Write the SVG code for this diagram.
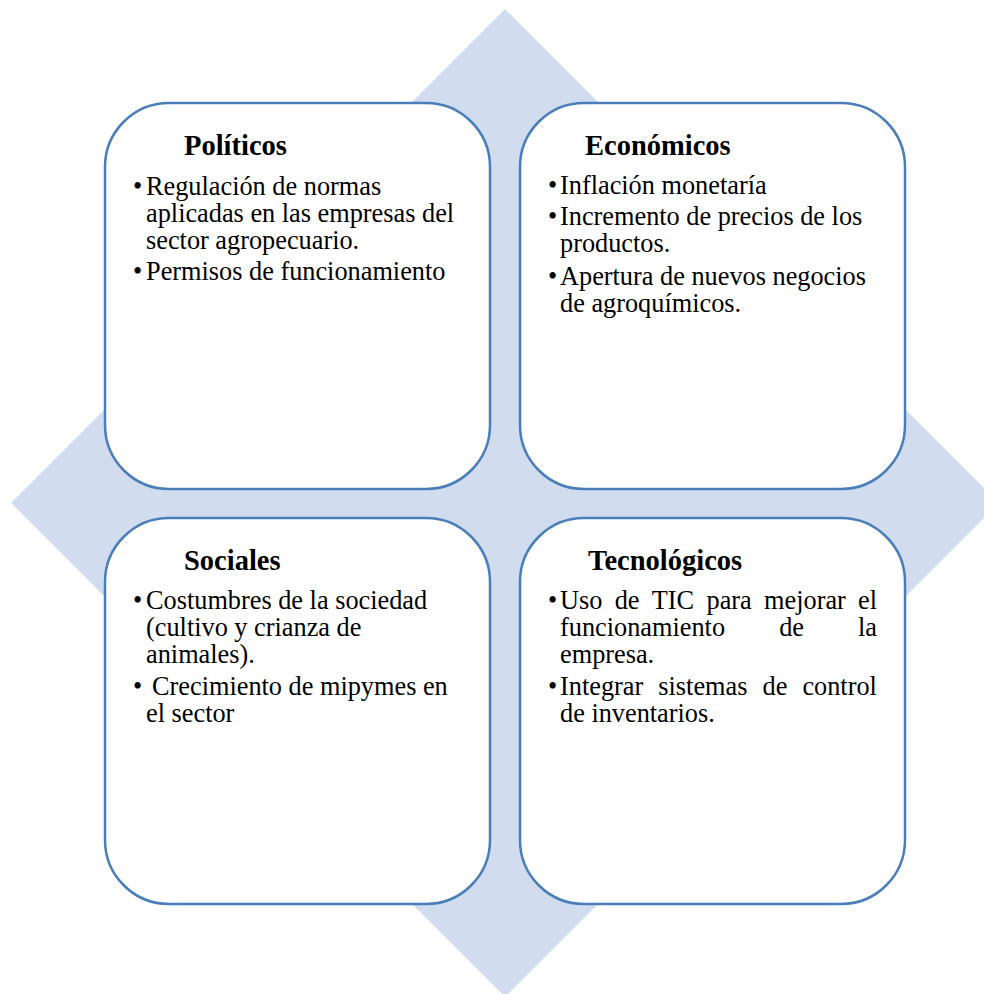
<svg xmlns="http://www.w3.org/2000/svg" width="984" height="994" viewBox="0 0 984 994">
<style>
.box{fill:#FFFFFF;stroke:#4A7EBB;stroke-width:2.5}
.t{font-family:"Liberation Serif","Times New Roman",serif;font-size:28.5px;font-weight:bold;fill:#000}
.b{font-family:"Liberation Serif","Times New Roman",serif;font-size:26.3px;fill:#000}
</style>
<rect width="984" height="994" fill="#FFFFFF"/>
<polygon id="diamond" points="505,9 999,503 505,997 11,503" fill="#D1DCEE"/>
<g id="connectors"/>
<g id="politicos">
<rect class="box" x="105" y="103" width="385" height="386" rx="64" ry="64"/>
<text class="t" x="184" y="155">Políticos</text>
<text class="b"><tspan x="133" y="195">•</tspan><tspan x="146" y="195">Regulación de normas</tspan><tspan x="146" y="222">aplicadas en las empresas del</tspan><tspan x="146" y="249">sector agropecuario.</tspan><tspan x="133" y="280">•</tspan><tspan x="146" y="280">Permisos de funcionamiento</tspan></text>
</g>
<g id="economicos">
<rect class="box" x="520" y="103" width="385" height="386" rx="64" ry="64"/>
<text class="t" x="585" y="155">Económicos</text>
<text class="b"><tspan x="548" y="194">•</tspan><tspan x="560" y="194">Inflación monetaría</tspan><tspan x="548" y="225">•</tspan><tspan x="560" y="225">Incremento de precios de los</tspan><tspan x="560" y="252">productos.</tspan><tspan x="548" y="285">•</tspan><tspan x="560" y="285">Apertura de nuevos negocios</tspan><tspan x="560" y="312">de agroquímicos.</tspan></text>
</g>
<g id="sociales">
<rect class="box" x="105" y="518" width="385" height="386" rx="64" ry="64"/>
<text class="t" x="184" y="570">Sociales</text>
<text class="b"><tspan x="133" y="609">•</tspan><tspan x="146" y="609">Costumbres de la sociedad</tspan><tspan x="146" y="636">(cultivo y crianza de</tspan><tspan x="146" y="663">animales).</tspan><tspan x="133" y="695">•</tspan><tspan x="152" y="695">Crecimiento de mipymes en</tspan><tspan x="146" y="722">el sector</tspan></text>
</g>
<g id="tecnologicos">
<rect class="box" x="520" y="518" width="385" height="386" rx="64" ry="64"/>
<text class="t" x="588" y="570">Tecnológicos</text>
<text class="b"><tspan x="548" y="609">•</tspan><tspan x="560" y="609">Uso</tspan><tspan x="614.7" y="609">de</tspan><tspan x="651.8" y="609">TIC</tspan><tspan x="706.5" y="609">para</tspan><tspan x="764.1" y="609">mejorar</tspan><tspan x="858" y="609">el</tspan><tspan x="560" y="636">funcionamiento</tspan><tspan x="779.2" y="636">de</tspan><tspan x="858" y="636">la</tspan><tspan x="560" y="663">empresa.</tspan><tspan x="548" y="695">•</tspan><tspan x="560" y="695">Integrar</tspan><tspan x="658.3" y="695">sistemas</tspan><tspan x="762.5" y="695">de</tspan><tspan x="802.4" y="695">control</tspan><tspan x="560" y="722">de inventarios.</tspan></text>
</g>
</svg>
